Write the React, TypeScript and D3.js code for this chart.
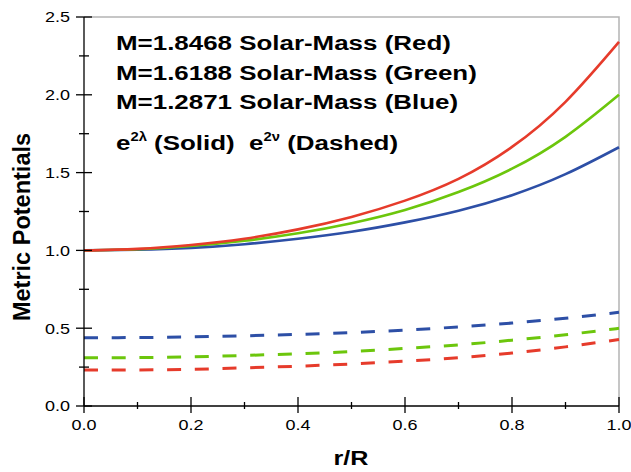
import React, { useRef, useEffect } from "react";
import * as d3 from "d3";

// r/R sample points
const radius = [0, 0.1, 0.2, 0.3, 0.4, 0.5, 0.6, 0.7, 0.8, 0.9, 1.0];

// e^{2 lambda} (solid)
const lambdaRed = [1.0, 1.01, 1.035, 1.075, 1.135, 1.215, 1.32, 1.46, 1.665, 1.955, 2.34];
const lambdaGreen = [1.0, 1.007, 1.028, 1.062, 1.11, 1.175, 1.26, 1.375, 1.525, 1.73, 2.0];
const lambdaBlue = [1.0, 1.004, 1.016, 1.04, 1.075, 1.12, 1.18, 1.255, 1.355, 1.49, 1.663];

// e^{2 nu} (dashed)
const nuRed = [0.231, 0.232, 0.236, 0.245, 0.256, 0.27, 0.288, 0.31, 0.34, 0.38, 0.427];
const nuGreen = [0.31, 0.311, 0.316, 0.325, 0.336, 0.35, 0.37, 0.393, 0.423, 0.458, 0.499];
const nuBlue = [0.439, 0.44, 0.444, 0.451, 0.46, 0.472, 0.488, 0.508, 0.533, 0.564, 0.602];

const xTicks = [0, 0.2, 0.4, 0.6, 0.8, 1.0];
const yTicks = [0, 0.5, 1.0, 1.5, 2.0, 2.5];

const legendLines = [
  "M=1.8468 Solar-Mass (Red)",
  "M=1.6188 Solar-Mass (Green)",
  "M=1.2871 Solar-Mass (Blue)",
];

const RED = "#e63b2b";
const GREEN = "#6cc60c";
const BLUE = "#2d4fa6";

// the original picture is a bit stretched sideways
const SX = 1.2;
const SX_NOTE = 1.235;
const FONT = "'Liberation Sans', Arial, sans-serif";

const App = () => {
  const ref = useRef(null);

  useEffect(() => {
    const width = 631;
    const height = 472;
    const margin = { top: 17, right: 12, bottom: 66, left: 84 };

    d3.select(ref.current).select("svg").remove();

    const svg = d3
      .select(ref.current)
      .append("svg")
      .attr("width", width)
      .attr("height", height)
      .style("position", "absolute")
      .style("left", 0)
      .style("top", 0)
      .style("background", "#fff");

    const x = d3
      .scaleLinear()
      .domain([0, 1])
      .range([margin.left, width - margin.right]);

    const y = d3
      .scaleLinear()
      .domain([0, 2.5])
      .range([height - margin.bottom, margin.top]);

    const x0 = x(0);
    const x1 = x(1);
    const y0 = y(0);
    const y1 = y(2.5);

    // frame: top and right in gray
    svg
      .append("path")
      .attr("d", `M${x0},${y1}H${x1}V${y0}`)
      .attr("fill", "none")
      .attr("stroke", "#b4b4b4")
      .attr("stroke-width", 1.5);

    const line = d3
      .line()
      .x((d) => x(d[0]))
      .y((d) => y(d[1]))
      .curve(d3.curveNatural);

    const series = [
      { v: nuRed, c: RED, dash: true },
      { v: nuGreen, c: GREEN, dash: true },
      { v: nuBlue, c: BLUE, dash: true },
      { v: lambdaBlue, c: BLUE, dash: false },
      { v: lambdaGreen, c: GREEN, dash: false },
      { v: lambdaRed, c: RED, dash: false },
    ];

    svg
      .append("g")
      .selectAll("path")
      .data(series)
      .join("path")
      .attr("d", (s) => line(radius.map((r, i) => [r, s.v[i]])))
      .attr("fill", "none")
      .attr("stroke", (s) => s.c)
      .attr("stroke-width", (s) => (s.dash ? 3 : 2.6))
      .attr("stroke-dasharray", (s) => (s.dash ? "14,13.7" : null))
      .attr("stroke-linecap", "butt");

    // axes
    const ax = svg.append("g").attr("stroke", "#000").attr("stroke-width", 1.3);
    ax.append("line").attr("x1", x0).attr("x2", x0).attr("y1", y1).attr("y2", y0);
    ax.append("line").attr("x1", x0).attr("x2", x1).attr("y1", y0).attr("y2", y0);

    const yMinor = d3.range(0.25, 2.5, 0.5);
    ax.selectAll(".ymaj")
      .data(yTicks)
      .join("line")
      .attr("x1", x0 - 8)
      .attr("x2", x0 + 8)
      .attr("y1", (d) => y(d))
      .attr("y2", (d) => y(d));
    ax.selectAll(".ymin")
      .data(yMinor)
      .join("line")
      .attr("class", "ymin")
      .attr("x1", x0 - 5)
      .attr("x2", x0 + 5)
      .attr("y1", (d) => y(d))
      .attr("y2", (d) => y(d));

    const xMinor = d3.range(0.1, 1, 0.2);
    ax.selectAll(".xmaj")
      .data(xTicks)
      .join("line")
      .attr("class", "xmaj")
      .attr("x1", (d) => x(d))
      .attr("x2", (d) => x(d))
      .attr("y1", y0 - 9)
      .attr("y2", y0 + 7);
    ax.selectAll(".xmin")
      .data(xMinor)
      .join("line")
      .attr("class", "xmin")
      .attr("x1", (d) => x(d))
      .attr("x2", (d) => x(d))
      .attr("y1", y0 - 4)
      .attr("y2", y0 + 3);

    const txt = (px, py, sx = SX) =>
      svg
        .append("text")
        .attr("transform", `translate(${px},${py}) scale(${sx},1)`)
        .attr("font-family", FONT);

    yTicks.forEach((d) => {
      txt(70, y(d) + 5.3)
        .attr("text-anchor", "end")
        .attr("font-size", 15)
        .text(d.toFixed(1));
    });

    xTicks.forEach((d) => {
      txt(x(d), 430)
        .attr("text-anchor", "middle")
        .attr("font-size", 15)
        .text(d.toFixed(1));
    });

    txt(351, 465)
      .attr("text-anchor", "middle")
      .attr("font-size", 21)
      .attr("font-weight", "bold")
      .text("r/R");

    svg
      .append("text")
      .attr("transform", `translate(30,227) rotate(-90) scale(1.12,1.12)`)
      .attr("font-family", FONT)
      .attr("text-anchor", "middle")
      .attr("font-size", 21)
      .attr("font-weight", "bold")
      .text("Metric Potentials");

    // annotation
    const base = [50, 79.5, 109];
    legendLines.forEach((t, i) => {
      txt(116, base[i], SX_NOTE).attr("font-size", 21).attr("font-weight", "bold").text(t);
    });

    const l4 = txt(116, 150, SX_NOTE)
      .attr("font-size", 21)
      .attr("font-weight", "bold")
      .style("white-space", "pre");
    l4.append("tspan").text("e");
    l4.append("tspan").attr("font-size", 12).attr("dy", -9).text("2\u03bb");
    l4.append("tspan").attr("dy", 9).text(" (Solid)  e");
    l4.append("tspan").attr("font-size", 12).attr("dy", -9).text("2\u03bd");
    l4.append("tspan").attr("dy", 9).text(" (Dashed)");
  }, []);

  return <div ref={ref}></div>;
};

export default App;
